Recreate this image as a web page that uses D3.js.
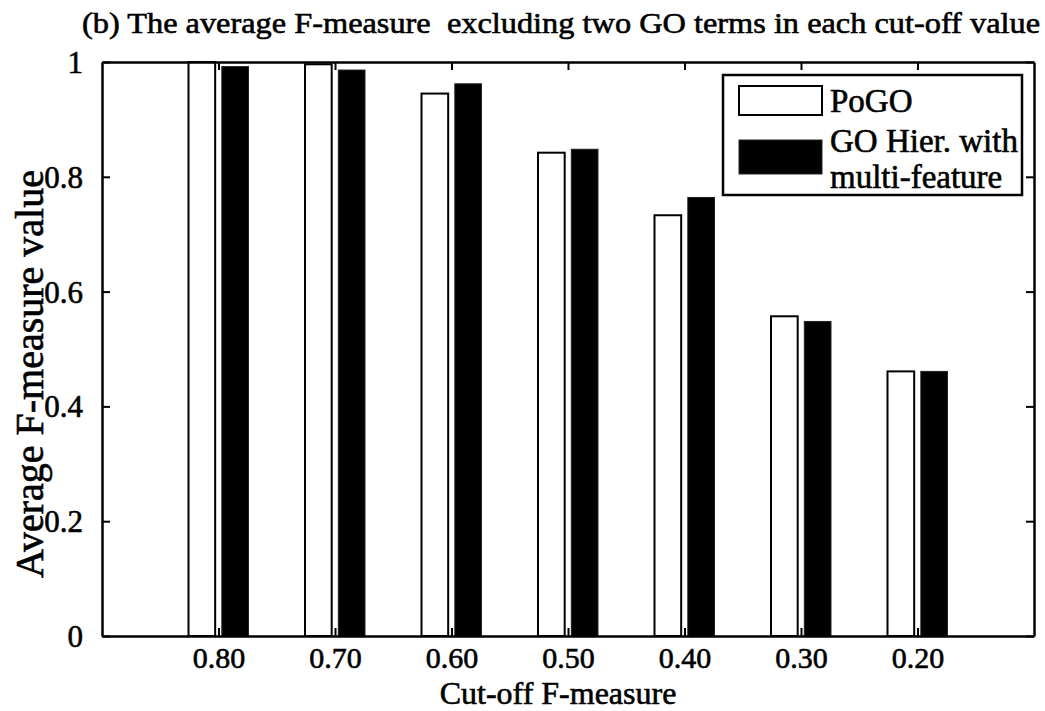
<!DOCTYPE html>
<html>
<head>
<meta charset="utf-8">
<script src="https://cdn.jsdelivr.net/npm/d3@7"></script>
<style>
  html, body { margin: 0; padding: 0; background: #fff; }
  svg { display: block; font-family: "Liberation Serif", "Times New Roman", serif; }
  svg text { stroke: #000; stroke-width: 0.6px; }
</style>
</head>
<body>
<svg id="chart" width="1045" height="711"></svg>
<script>
const categories = ["0.80", "0.70", "0.60", "0.50", "0.40", "0.30", "0.20"];
const pogo = [1.0, 0.996, 0.945, 0.842, 0.733, 0.557, 0.461];
const goHier = [0.992, 0.986, 0.962, 0.848, 0.764, 0.548, 0.461];
const seriesNames = ["PoGO", "GO Hier. with multi-feature"];
const yTicks = [0, 0.2, 0.4, 0.6, 0.8, 1];
const titleText = "(b) The average F-measure  excluding two GO terms in each cut-off value";
const xLabel = "Cut-off F-measure";
const yLabel = "Average F-measure value";

const svg = d3.select("#chart");
const L = 102, R = 1034, T = 62, B = 636;

const x = d3.scaleLinear().domain([0, categories.length + 1]).range([L, R]);
const y = d3.scaleLinear().domain([0, 1]).range([B, T]);

const barW = 0.229, off = 0.143;

// bars
const g = svg.append("g");
categories.forEach((c, i) => {
  const cx = i + 1;
  g.append("rect")
    .attr("x", x(cx - off - barW / 2)).attr("width", x(barW) - x(0))
    .attr("y", y(pogo[i])).attr("height", y(0) - y(pogo[i]))
    .attr("fill", "#fff").attr("stroke", "#000").attr("stroke-width", 2);
  g.append("rect")
    .attr("x", x(cx + off - barW / 2)).attr("width", x(barW) - x(0))
    .attr("y", y(goHier[i])).attr("height", y(0) - y(goHier[i]))
    .attr("fill", "#000").attr("stroke", "#222").attr("stroke-width", 1);
});

// axes
const fs = 31;
const xAxisB = d3.axisBottom(x).tickValues(d3.range(1, categories.length + 1))
  .tickFormat(d => categories[d - 1]).tickSizeInner(-8).tickSizeOuter(0).tickPadding(20);
const gxb = svg.append("g").attr("transform", `translate(0,${B})`).call(xAxisB);
const xAxisT = d3.axisTop(x).tickValues(d3.range(1, categories.length + 1))
  .tickFormat("").tickSizeInner(-8).tickSizeOuter(0);
const gxt = svg.append("g").attr("transform", `translate(0,${T})`).call(xAxisT);
const yAxisL = d3.axisLeft(y).tickValues(yTicks).tickFormat(d => d === 0 ? "0" : d === 1 ? "1" : d3.format(".1f")(d))
  .tickSizeInner(-8).tickSizeOuter(0).tickPadding(19);
const gyl = svg.append("g").attr("transform", `translate(${L},0)`).call(yAxisL);
const yAxisR = d3.axisRight(y).tickValues(yTicks).tickFormat("").tickSizeInner(-8).tickSizeOuter(0);
const gyr = svg.append("g").attr("transform", `translate(${R},0)`).call(yAxisR);

[gxb, gxt, gyl, gyr].forEach(a => {
  a.select(".domain").attr("stroke", "#000").attr("stroke-width", 2.5);
  a.selectAll(".tick line").attr("stroke", "#000").attr("stroke-width", 2);
  a.selectAll("text").attr("font-size", fs).attr("fill", "#000")
    .attr("font-family", "Liberation Serif, Times New Roman, serif");
});
gxb.selectAll("text").attr("font-size", 30).attr("dy", null).attr("y", 32);
gyl.selectAll("text").attr("dy", "0.34em");

// title
svg.append("text").attr("x", 82).attr("y", 33)
  .attr("font-size", 30).attr("textLength", 958).attr("lengthAdjust", "spacingAndGlyphs")
  .style("white-space", "pre").attr("fill", "#000").text(titleText);

// axis labels
svg.append("text").attr("x", 558).attr("y", 704).attr("text-anchor", "middle")
  .attr("font-size", 32).attr("fill", "#000").text(xLabel);
svg.append("text").attr("transform", `translate(43,374) rotate(-90)`)
  .attr("text-anchor", "middle").attr("font-size", 40).attr("fill", "#000").text(yLabel);

// legend
const lg = svg.append("g");
lg.append("rect").attr("x", 723).attr("y", 75).attr("width", 299).attr("height", 120)
  .attr("fill", "#fff").attr("stroke", "#000").attr("stroke-width", 2.5);
lg.append("rect").attr("x", 739).attr("y", 86).attr("width", 83).attr("height", 29)
  .attr("fill", "#fff").attr("stroke", "#000").attr("stroke-width", 2);
lg.append("rect").attr("x", 739).attr("y", 140).attr("width", 83).attr("height", 34)
  .attr("fill", "#000").attr("stroke", "#222").attr("stroke-width", 1);
lg.append("text").attr("x", 830).attr("y", 112).attr("font-size", 33).attr("fill", "#000").text(seriesNames[0]);
const t2 = lg.append("text").attr("x", 830).attr("font-size", 33).attr("fill", "#000");
t2.append("tspan").attr("x", 830).attr("y", 152).text("GO Hier. with");
t2.append("tspan").attr("x", 830).attr("y", 188).text("multi-feature");
</script>
</body>
</html>
